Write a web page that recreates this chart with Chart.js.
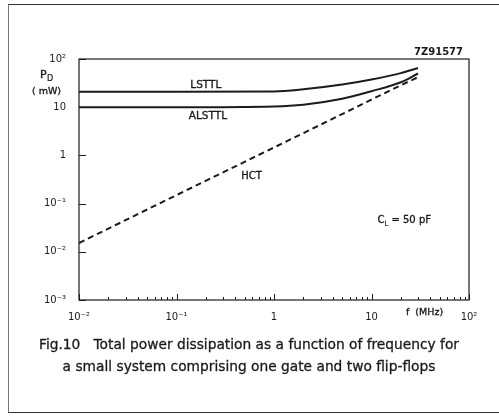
<!DOCTYPE html>
<html>
<head>
<meta charset="utf-8">
<script src="https://cdn.jsdelivr.net/npm/chart.js@4.4.0/dist/chart.umd.min.js"></script>
<style>
    html, body { margin: 0; padding: 0; background: #fff; }
    #wrap { position: relative; width: 499px; height: 416px; overflow: hidden; }
    #frame { position: absolute; left: 8px; top: 4px; width: 600px; height: 407px; border: 1px solid #333; border-left-color: #777; }
    canvas { position: absolute; left: 0; top: 0; }
</style>
</head>
<body>
<div id="wrap">
    <div id="frame"></div>
    <canvas id="pd-chart" width="499" height="416"></canvas>
</div>
<script>
// frequency in MHz, power in mW
let freq   = [0.01, 0.1, 1, 2, 5, 10, 20, 30];
let lsttl  = [21, 21, 21.2, 23.5, 29.5, 37.5, 51, 65];
let alsttl = [10, 10, 10.4, 11.3, 15, 21.5, 33, 50];
let hct    = [0.0152, 0.15, 1.46, 2.9, 7.2, 14.4, 28.5, 42];

let xMajor = [0.01, 0.1, 1, 10, 100];
let xMajorLabels = ['10⁻²', '10⁻¹', '1', '10', '10²'];
let yMajor = [0.001, 0.01, 0.1, 1, 10, 100];
let yMajorLabels = ['10⁻³', '10⁻²', '10⁻¹', '1', '10', '10²'];

// minor ticks on the frequency axis (2..9 of every decade)
let xTicks = [];
xMajor.forEach((d, i) => {
    xTicks.push(d);
    if (i < xMajor.length - 1) {
        for (let m = 2; m <= 9; m++) xTicks.push(m * d);
    }
});

const ink = '#1b1b1b';
const font = 'DejaVu Sans, Verdana, sans-serif';

function pts(ys) {
    return freq.map((f, i) => ({ x: f, y: ys[i] }));
}

function labelOf(v, majors, labels) {
    let i = majors.findIndex(m => Math.abs(Math.log10(m) - Math.log10(v)) < 1e-6);
    return i >= 0 ? labels[i] : '';
}

// text a little heavier, like the printed sheet
function ink_text(ctx, s, x, y, w) {
    ctx.fillText(s, x, y);
    ctx.lineWidth = w || 0.35;
    ctx.strokeText(s, x, y);
}

// frame, inward ticks and the texts of the datasheet figure
const sheetPlugin = {
    id: 'sheet',
    afterDraw(chart) {
        let ctx = chart.ctx;
        let a = chart.chartArea;
        let xs = chart.scales.x;
        let ys = chart.scales.y;
        ctx.save();
        ctx.strokeStyle = ink;
        ctx.lineWidth = 1.2;
        ctx.strokeRect(a.left, a.top, a.right - a.left, a.bottom - a.top);

        ctx.lineWidth = 1;
        ctx.beginPath();
        yMajor.forEach(v => {
            let y = Math.round(ys.getPixelForValue(v)) + 0.5;
            ctx.moveTo(a.left, y);
            ctx.lineTo(a.left + 7, y);
        });
        xTicks.forEach(v => {
            let x = Math.round(xs.getPixelForValue(v)) + 0.5;
            let len = labelOf(v, xMajor, xMajorLabels) ? 6 : 3;
            ctx.moveTo(x, a.bottom);
            ctx.lineTo(x, a.bottom - len);
        });
        ctx.stroke();

        ctx.fillStyle = ink;
        ctx.textBaseline = 'alphabetic';

        // axis titles
        ctx.textAlign = 'left';
        ctx.font = '11px ' + font;
        ink_text(ctx, 'P', 40, 78);
        ctx.font = '8px ' + font;
        ink_text(ctx, 'D', 47, 81, 0.2);
        ctx.font = '9.5px ' + font;
        ink_text(ctx, '( mW)', 32, 94);
        ctx.textAlign = 'center';
        ink_text(ctx, 'f  (MHz)', xs.getPixelForValue(35), 315);

        // figure code
        ctx.textAlign = 'right';
        ctx.font = 'bold 10px ' + font;
        ctx.fillText('7Z91577', a.right - 6, 55);

        // curve names
        ctx.textAlign = 'center';
        ctx.font = '10.5px ' + font;
        ink_text(ctx, 'LSTTL', xs.getPixelForValue(0.2), ys.getPixelForValue(30) + 4);
        ink_text(ctx, 'ALSTTL', xs.getPixelForValue(0.21), ys.getPixelForValue(6.9) + 4);
        ctx.font = '10px ' + font;
        ink_text(ctx, 'HCT', xs.getPixelForValue(0.59), ys.getPixelForValue(0.39) + 4);

        // load capacitance
        ctx.textAlign = 'left';
        let cx = xs.getPixelForValue(11.5);
        let cy = ys.getPixelForValue(0.048) + 4;
        ctx.font = '10px ' + font;
        ink_text(ctx, 'C', cx, cy);
        ctx.font = '7px ' + font;
        ink_text(ctx, 'L', cx + 7, cy + 3, 0.2);
        ctx.font = '10px ' + font;
        ink_text(ctx, '= 50 pF', cx + 14, cy);

        // caption, sized to the printed line width
        let line1 = 'Fig.10   Total power dissipation as a function of frequency for';
        let line2 = 'a small system comprising one gate and two flip-flops';
        ctx.font = '13px ' + font;
        let size = 13 * 420 / ctx.measureText(line1).width;
        ctx.font = size.toFixed(2) + 'px ' + font;
        ctx.textAlign = 'center';
        ink_text(ctx, line1, 249, 349, 0.3);
        ink_text(ctx, line2, 249, 371, 0.3);
        ctx.restore();
    }
};

let pdChart = new Chart(document.getElementById('pd-chart').getContext('2d'), {
    type: 'line',
    data: {
        datasets: [{
            label: 'LSTTL',
            data: pts(lsttl),
            borderColor: ink,
            borderWidth: 2,
            pointRadius: 0,
            cubicInterpolationMode: 'monotone',
            fill: false
        }, {
            label: 'ALSTTL',
            data: pts(alsttl),
            borderColor: ink,
            borderWidth: 2,
            pointRadius: 0,
            cubicInterpolationMode: 'monotone',
            fill: false
        }, {
            label: 'HCT',
            data: pts(hct),
            borderColor: ink,
            borderWidth: 2,
            borderDash: [6, 4],
            pointRadius: 0,
            cubicInterpolationMode: 'monotone',
            fill: false
        }]
    },
    options: {
        responsive: false,
        animation: false,
        devicePixelRatio: 1,
        layout: {
            padding: { left: 8, right: 30, top: 59, bottom: 0 }
        },
        plugins: {
            legend: { display: false },
            title: { display: false },
            tooltip: { enabled: false }
        },
        scales: {
            x: {
                type: 'logarithmic',
                min: 0.01,
                max: 100,
                grid: { display: false },
                border: { display: false },
                afterBuildTicks: axis => { axis.ticks = xTicks.map(v => ({ value: v })); },
                afterFit: axis => { axis.height = 116; },
                ticks: {
                    autoSkip: false,
                    maxRotation: 0,
                    padding: 3,
                    color: ink,
                    font: { family: font, size: 10 },
                    callback: v => labelOf(v, xMajor, xMajorLabels)
                }
            },
            y: {
                type: 'logarithmic',
                min: 0.001,
                max: 100,
                grid: { display: false },
                border: { display: false },
                afterBuildTicks: axis => { axis.ticks = yMajor.map(v => ({ value: v })); },
                afterFit: axis => { axis.width = 71; },
                ticks: {
                    autoSkip: false,
                    padding: 5,
                    color: ink,
                    font: { family: font, size: 10 },
                    callback: v => labelOf(v, yMajor, yMajorLabels)
                }
            }
        }
    },
    plugins: [sheetPlugin]
});
</script>
</body>
</html>
